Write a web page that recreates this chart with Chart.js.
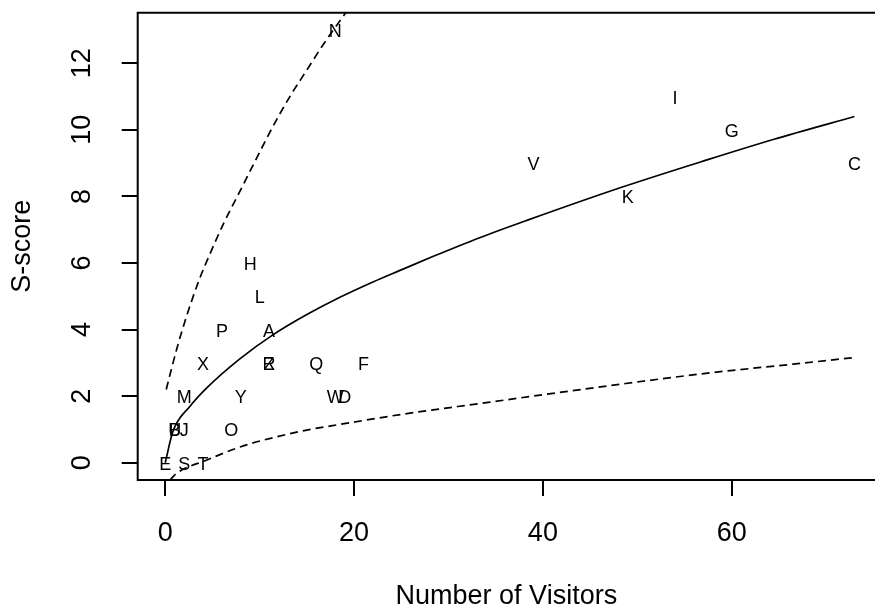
<!DOCTYPE html>
<html>
<head>
<meta charset="utf-8">
<script src="https://cdn.jsdelivr.net/npm/chart.js@4.4.1/dist/chart.umd.min.js"></script>
<style>
html, body { margin: 0; padding: 0; background: #fff; overflow: hidden; }
#wrap { width: 875px; height: 609px; }
</style>
</head>
<body>
<div id="wrap"><canvas id="chartVisitors"></canvas></div>
<script>
// huruf untuk tiap titik (pengunjung vs skor)
const pointLabels = ['A','B','C','D','E','F','G','H','I','J','K','L','M','N','O','P','Q','R','S','T','U','V','W','X','Y','Z'];
const visitors = [11, 1, 73, 19, 0, 21, 60, 9, 54, 2, 49, 10, 2, 18, 7, 6, 16, 11, 2, 4, 1, 39, 18, 4, 8, 11];
const sScore   = [4, 1, 9, 2, 0, 3, 10, 6, 11, 1, 8, 5, 2, 13, 1, 4, 3, 3, 0, 0, 1, 9, 2, 3, 2, 3];

// garis tengah (solid)
const fitX = [0, 0.8, 2.6, 4.4, 7.9, 11.4, 15, 18.5, 22, 24.8, 28.4, 33.3, 38.3, 48.5, 57.3, 64.4, 73];
const fitY = [0, 0.93, 1.69, 2.25, 3.12, 3.84, 4.45, 4.97, 5.43, 5.77, 6.2, 6.76, 7.28, 8.29, 9.09, 9.71, 10.4];

// batas atas dan bawah (putus-putus)
const upX = [0.1, 1.2, 2.2, 3.6, 4.7, 6.2, 7.9, 9.5, 11.4, 13.2, 15, 16.7, 19, 19.6];
const upY = [2.2, 3.4, 4.35, 5.5, 6.25, 7.2, 8.15, 9.05, 10.1, 11.0, 11.8, 12.55, 13.47, 13.7];
const loX = [0.5, 1.2, 4.4, 8, 11.4, 15, 18.5, 25, 34.4, 42, 48.8, 57.7, 66.5, 73];
const loY = [-0.52, -0.32, 0.08, 0.48, 0.75, 0.98, 1.15, 1.45, 1.82, 2.12, 2.38, 2.7, 2.96, 3.16];

const xTicks = [0, 20, 40, 60];
const yTicks = [0, 2, 4, 6, 8, 10, 12];

const toXY = (xs, ys) => xs.map((x, i) => ({ x: x, y: ys[i] }));

Chart.defaults.font.family = '"Liberation Sans", Arial, sans-serif';
Chart.defaults.color = '#000';

// kotak plot + huruf di tiap titik
const bingkai = {
    id: 'bingkai',
    afterDatasetsDraw(chart) {
        const ctx = chart.ctx;
        const a = chart.chartArea;
        const meta = chart.getDatasetMeta(0);
        ctx.save();
        ctx.font = '18px "Liberation Sans", Arial, sans-serif';
        ctx.fillStyle = '#000';
        ctx.textAlign = 'center';
        ctx.textBaseline = 'middle';
        meta.data.forEach((el, i) => ctx.fillText(pointLabels[i], el.x, el.y + 2));
        ctx.strokeStyle = '#000';
        ctx.lineWidth = 2;
        ctx.beginPath();
        ctx.moveTo(a.right + 5, a.top);
        ctx.lineTo(a.left, a.top);
        ctx.lineTo(a.left, a.bottom);
        ctx.lineTo(a.right + 5, a.bottom);
        ctx.stroke();
        ctx.restore();
    }
};

const ctx = document.getElementById('chartVisitors').getContext('2d');
const myChart = new Chart(ctx, {
    type: 'scatter',
    data: {
        datasets: [{
            label: 'titik',
            data: toXY(visitors, sScore),
            pointRadius: 0,
            pointHoverRadius: 0
        }, {
            label: 'fit',
            data: toXY(fitX, fitY),
            showLine: true,
            pointRadius: 0,
            borderColor: '#000',
            borderWidth: 1.7,
            cubicInterpolationMode: 'monotone'
        }, {
            label: 'atas',
            data: toXY(upX, upY),
            showLine: true,
            pointRadius: 0,
            borderColor: '#000',
            borderWidth: 1.7,
            borderDash: [8, 5],
            cubicInterpolationMode: 'monotone'
        }, {
            label: 'bawah',
            data: toXY(loX, loY),
            showLine: true,
            pointRadius: 0,
            borderColor: '#000',
            borderWidth: 1.7,
            borderDash: [8, 5],
            cubicInterpolationMode: 'monotone'
        }]
    },
    options: {
        responsive: true,
        maintainAspectRatio: false,
        animation: false,
        layout: { padding: { top: 12.7, right: 0, left: 0, bottom: 0 } },
        plugins: { legend: { display: false }, tooltip: { enabled: false } },
        scales: {
            x: {
                type: 'linear',
                min: -2.92,
                max: 75.18,
                afterBuildTicks: s => { s.ticks = xTicks.map(v => ({ value: v })); },
                afterFit: s => { s.height = 129; s.paddingLeft = 0; s.paddingRight = 0; },
                ticks: { font: { size: 27 }, color: '#000', padding: 21, autoSkip: false, maxRotation: 0 },
                grid: { drawOnChartArea: false, drawTicks: true, tickLength: 16, color: '#000', lineWidth: 2 },
                border: { display: false },
                title: { display: true, text: 'Number of Visitors', color: '#000', font: { size: 27, lineHeight: 0.92 }, padding: 0 }
            },
            y: {
                type: 'linear',
                min: -0.52,
                max: 13.52,
                afterBuildTicks: s => { s.ticks = yTicks.map(v => ({ value: v })); },
                afterFit: s => { s.width = 137.7; s.paddingTop = 0; s.paddingBottom = 0; },
                ticks: { font: { size: 27 }, color: '#000', padding: 24, autoSkip: false, minRotation: 90, maxRotation: 90, crossAlign: 'center' },
                grid: { drawOnChartArea: false, drawTicks: true, tickLength: 16, color: '#000', lineWidth: 2 },
                border: { display: false },
                title: { display: true, text: 'S-score', color: '#000', font: { size: 27, lineHeight: 1 }, padding: { top: 9.5, bottom: 0 } }
            }
        }
    },
    plugins: [bingkai]
});
</script>
</body>
</html>
